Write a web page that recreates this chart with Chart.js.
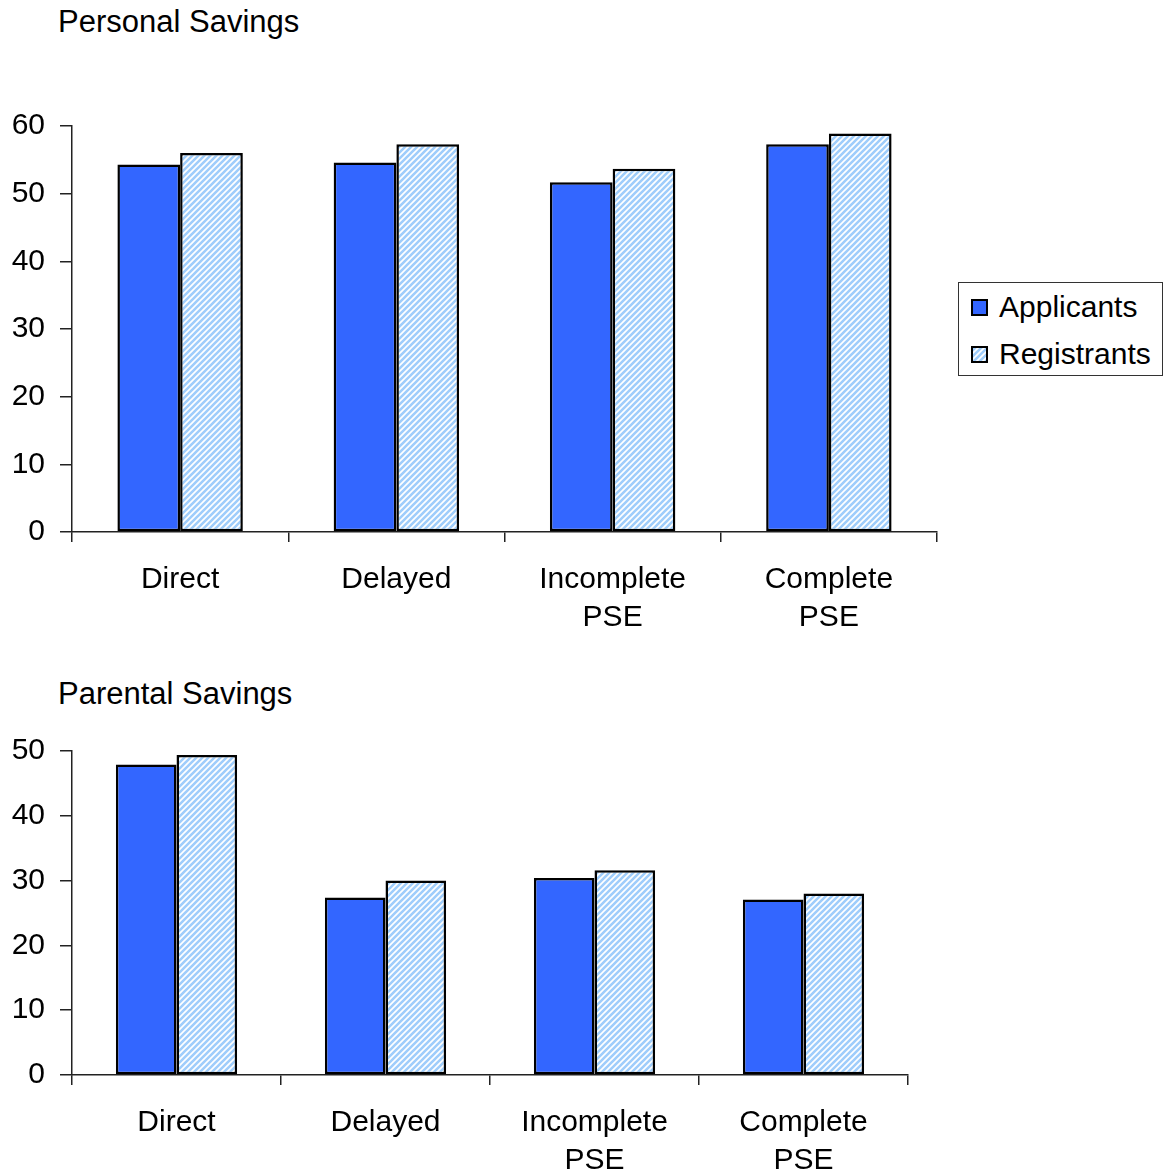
<!DOCTYPE html>
<html>
<head>
<meta charset="utf-8">
<script src="https://cdn.jsdelivr.net/npm/chart.js@4"></script>
<style>
  body { margin: 0; background: #fff; width: 1165px; height: 1173px; overflow: hidden; position: relative;
         font-family: 'Liberation Sans', Arial, sans-serif; color: #000; }
  canvas { position: absolute; left: 0; }
  .title { position: absolute; left: 58px; font-size: 31px; line-height: 36px; white-space: nowrap; }
  #legend { position: absolute; left: 958px; top: 282px; width: 205px; height: 94px; box-sizing: border-box;
            border: 1px solid #333; background: #fff; }
  #legend .sw { position: absolute; left: 12px; }
  #legend .lbl { position: absolute; left: 40px; font-size: 30px; line-height: 36px; white-space: nowrap; }
</style>
</head>
<body>
<div class="title" id="title1" style="top:4px">Personal Savings</div>
<canvas id="personalChart" width="1165" height="660" style="top:0"></canvas>
<div id="legend"></div>
<div class="title" id="title2" style="top:676px">Parental Savings</div>
<canvas id="parentalChart" width="1165" height="513" style="top:660px"></canvas>

<script>
// categories and series
const categories = ['Direct', 'Delayed', ['Incomplete', 'PSE'], ['Complete', 'PSE']];
const seriesNames = ['Applicants', 'Registrants'];

const personalApplicants = [54.3, 54.6, 51.7, 57.3];
const personalRegistrants = [56.0, 57.3, 53.7, 58.9];

const parentalApplicants = [47.9, 27.4, 30.4, 27.1];
const parentalRegistrants = [49.4, 30.0, 31.6, 28.0];

const personalTicks = [0, 10, 20, 30, 40, 50, 60];
const parentalTicks = [0, 10, 20, 30, 40, 50];

Chart.defaults.font.family = "'Liberation Sans', Arial, sans-serif";
Chart.defaults.font.size = 30;
Chart.defaults.color = '#000';

// diagonal light blue hatch used for Registrants
function makeHatch(ctx) {
  const n = 6;
  const tile = document.createElement('canvas');
  tile.width = n; tile.height = n;
  const t = tile.getContext('2d');
  t.fillStyle = '#fff';
  t.fillRect(0, 0, n, n);
  t.strokeStyle = '#9fcdfb';
  t.lineWidth = 2.6;
  t.beginPath();
  t.moveTo(-1, n + 1); t.lineTo(n + 1, -1);
  t.moveTo(-1, 1); t.lineTo(1, -1);
  t.moveTo(n - 1, n + 1); t.lineTo(n + 1, n - 1);
  t.stroke();
  return ctx.createPattern(tile, 'repeat');
}

/**
 * Dibuja una de las dos gráficas de barras.
 */
function createSavingsChart(canvasId, applicants, registrants, ticks, padRight, padTop, xHeight) {
  const ctx = document.getElementById(canvasId).getContext('2d');
  const hatch = makeHatch(ctx);
  return new Chart(ctx, {
    type: 'bar',
    data: {
      labels: categories,
      datasets: [
        { label: seriesNames[0], data: applicants, backgroundColor: '#3366ff',
          borderColor: '#000', borderWidth: 2.5, borderSkipped: false },
        { label: seriesNames[1], data: registrants, backgroundColor: hatch,
          borderColor: '#000', borderWidth: 2.5, borderSkipped: false }
      ]
    },
    options: {
      responsive: false,
      animation: false,
      layout: { padding: { left: 0, right: padRight, top: padTop, bottom: 0 } },
      datasets: { bar: { categoryPercentage: 0.58, barPercentage: 1.0 } },
      scales: {
        x: {
          grid: { drawOnChartArea: false, offset: true, tickLength: 10, color: '#222', lineWidth: 1.5 },
          border: { color: '#222', width: 1.5 },
          ticks: { padding: 19, maxRotation: 0, font: { size: 30, lineHeight: 1.27 } },
          afterFit: (scale) => { scale.height = xHeight; }
        },
        y: {
          min: ticks[0],
          max: ticks[ticks.length - 1],
          grid: { drawOnChartArea: false, tickLength: 12, color: '#222', lineWidth: 1.5 },
          border: { color: '#222', width: 1.5 },
          ticks: { stepSize: ticks[1] - ticks[0], padding: 15 },
          afterFit: (scale) => { scale.width = 72; }
        }
      },
      plugins: {
        legend: { display: false },
        tooltip: { enabled: false }
      }
    }
  });
}

createSavingsChart('personalChart', personalApplicants, personalRegistrants, personalTicks, 228, 126, 128);
createSavingsChart('parentalChart', parentalApplicants, parentalRegistrants, parentalTicks, 257, 91, 98);

// legend built from the series names
const legend = document.getElementById('legend');
const swatchTops = [16, 63];
const labelTops = [6, 53];
seriesNames.forEach((name, i) => {
  const sw = document.createElement('canvas');
  sw.className = 'sw';
  sw.width = 17; sw.height = 17;
  sw.style.top = swatchTops[i] + 'px';
  const c = sw.getContext('2d');
  c.fillStyle = i === 0 ? '#3366ff' : makeHatch(c);
  c.fillRect(0, 0, 17, 17);
  c.strokeStyle = '#000';
  c.lineWidth = 2;
  c.strokeRect(1, 1, 15, 15);
  legend.appendChild(sw);
  const lbl = document.createElement('div');
  lbl.className = 'lbl';
  lbl.style.top = labelTops[i] + 'px';
  lbl.textContent = name;
  legend.appendChild(lbl);
});
</script>
</body>
</html>
